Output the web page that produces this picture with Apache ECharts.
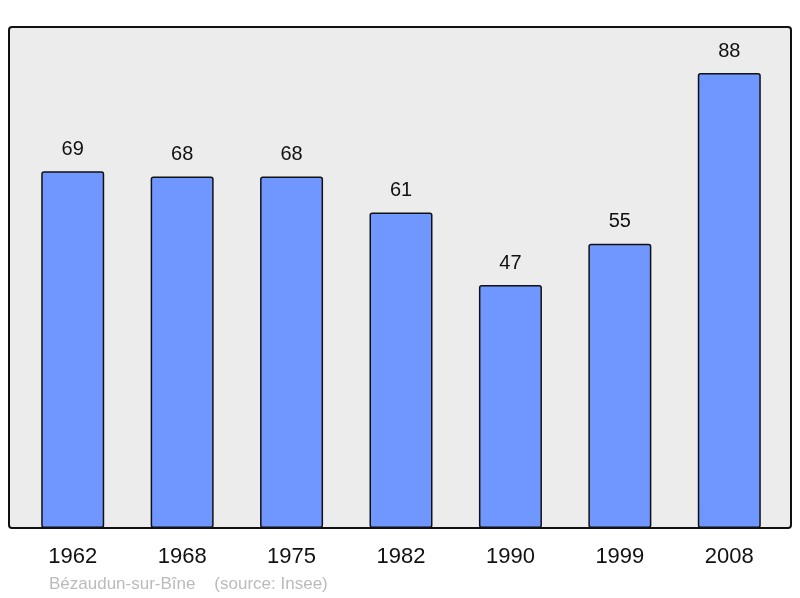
<!DOCTYPE html>
<html>
<head>
<meta charset="utf-8">
<script src="https://cdn.jsdelivr.net/npm/echarts@6/dist/echarts.min.js"></script>
<style>
  html, body { margin: 0; padding: 0; background: #fff; }
  #chart { width: 800px; height: 598px; }
</style>
</head>
<body>
<div id="chart"></div>
<script>
// years of the census and population counts
var years = ['1962', '1968', '1975', '1982', '1990', '1999', '2008'];
var population = [69, 68, 68, 61, 47, 55, 88];

var myChart = echarts.init(document.getElementById('chart'));

var option = {
    animation: false,
    textStyle: { fontFamily: 'Liberation Sans, Arial, sans-serif' },
    graphic: [
        {
            type: 'rect',
            z: -10,
            shape: { x: 9, y: 27, width: 782, height: 501, r: 3 },
            style: { fill: '#ececec', stroke: '#111', lineWidth: 2 }
        },
        {
            type: 'text',
            left: 49,
            top: 576,
            style: {
                text: 'Bézaudun-sur-Bîne    (source: Insee)',
                fill: '#bbbbbb',
                font: '17px Liberation Sans, Arial, sans-serif'
            }
        }
    ],
    grid: {
        left: 18,
        right: 16,
        top: 27,
        bottom: 70
    },
    xAxis: {
        type: 'category',
        data: years,
        axisLine: { show: false },
        axisTick: { show: false },
        axisLabel: {
            color: '#111',
            fontSize: 22,
            margin: 18
        }
    },
    yAxis: {
        type: 'value',
        min: 0,
        max: 96.9,
        show: false,
        splitLine: { show: false }
    },
    series: [
        {
            type: 'bar',
            data: population,
            barWidth: 63,
            itemStyle: {
                color: '#7097ff',
                borderColor: '#111',
                borderWidth: 1.5,
                borderRadius: 2
            },
            label: {
                show: true,
                position: 'top',
                distance: 12,
                color: '#111',
                fontSize: 20
            }
        }
    ]
};

myChart.setOption(option, true);
</script>
</body>
</html>
